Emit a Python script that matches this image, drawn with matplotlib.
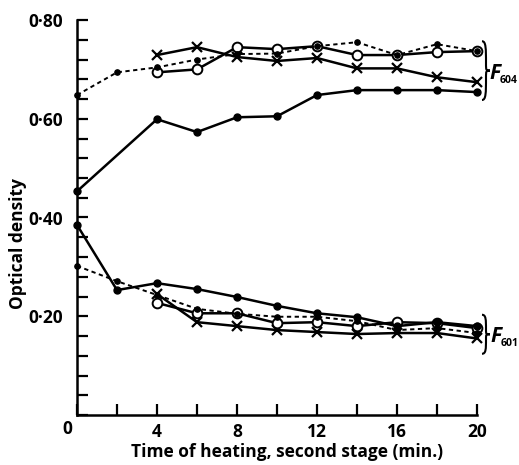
import matplotlib
matplotlib.use("Agg")
import matplotlib.pyplot as plt
from matplotlib.path import Path
from matplotlib.patches import PathPatch
from matplotlib.ticker import MultipleLocator

# time of heating, second stage (min.)
t_all = [0, 2, 4, 6, 8, 10, 12, 14, 16, 18, 20]
t_dot_hi = [0, 4, 6, 8, 10, 12, 14, 16, 18, 20]
t_late = [4, 6, 8, 10, 12, 14, 16, 18, 20]

# F604 group
f604_dots = [0.453, 0.599, 0.573, 0.603, 0.605, 0.648, 0.658, 0.658, 0.658, 0.654]
f604_dotted = [0.648, 0.694, 0.704, 0.720, 0.731, 0.732, 0.747, 0.755, 0.729, 0.751, 0.737]
f604_circles = [0.694, 0.700, 0.745, 0.741, 0.747, 0.729, 0.729, 0.735, 0.737]
f604_crosses = [0.729, 0.745, 0.725, 0.717, 0.723, 0.702, 0.702, 0.684, 0.674]

# F601 group
f601_dots = [0.385, 0.253, 0.267, 0.255, 0.239, 0.221, 0.206, 0.198, 0.180, 0.188, 0.180]
f601_dotted = [0.302, 0.271, 0.243, 0.215, 0.205, 0.199, 0.199, 0.190, 0.172, 0.176, 0.166]
f601_circles = [0.227, 0.206, 0.206, 0.186, 0.188, 0.180, 0.188, 0.186, 0.176]
f601_crosses = [0.245, 0.188, 0.180, 0.172, 0.168, 0.164, 0.166, 0.166, 0.155]

x_ticks = [4, 8, 12, 16, 20]
y_ticks = [0.20, 0.40, 0.60, 0.80]
y_labels = ["0·20", "0·40", "0·60", "0·80"]

FONT = "Open Sans"
plt.rcParams["font.family"] = [FONT, "DejaVu Sans"]

fig = plt.figure(figsize=(5.19, 4.65), dpi=100)
ax = fig.add_axes([77 / 519, 50 / 465, 400 / 519, 395 / 465])

k = "black"
solid = dict(color=k, lw=1.8, solid_joinstyle="miter", clip_on=False)
dotted = dict(color=k, lw=1.4, linestyle=(0, (2.2, 1.8)), clip_on=False)

for t_d, dots, dots2, circ, cross in [
    (t_dot_hi, f604_dots, f604_dotted, f604_circles, f604_crosses),
    (t_all, f601_dots, f601_dotted, f601_circles, f601_crosses),
]:
    ax.plot(t_late, cross, marker="x", ms=6.5, mew=1.6, zorder=3, **solid)
    ax.plot(t_late, circ, marker="o", ms=7, mfc="white", mec=k, mew=1.4, zorder=4, **solid)
    ax.plot(t_d, dots, marker="o", ms=5, mfc=k, mec=k, zorder=5, **solid)
    ax.plot(t_all, dots2, marker="o", ms=3.8, mfc=k, mec=k, zorder=6, **dotted)

ax.set_xlim(0, 20)
ax.set_ylim(0, 0.80)
for s in ("top", "right"):
    ax.spines[s].set_visible(False)
for s in ("left", "bottom"):
    ax.spines[s].set_linewidth(1.8)

ax.set_xticks(x_ticks)
ax.set_xticklabels([str(v) for v in x_ticks])
ax.xaxis.set_minor_locator(MultipleLocator(2))
ax.set_yticks(y_ticks)
ax.set_yticklabels(y_labels)
ax.yaxis.set_minor_locator(MultipleLocator(0.04))
ax.tick_params(which="both", direction="in", width=1.6, labelsize=12.5)
ax.tick_params(axis="x", which="both", length=8, pad=6)
ax.tick_params(axis="y", which="both", length=8, pad=10)
for lab in ax.get_xticklabels() + ax.get_yticklabels():
    lab.set_fontweight("bold")

# origin label sits below-left of the corner
ax.text(-0.5, -0.011, "0", ha="center", va="top", fontsize=12.5,
        fontweight="bold", clip_on=False)

ax.set_xlabel("Time of heating, second stage (min.)", fontsize=12.5, fontweight="bold")
ax.xaxis.set_label_coords(0.525, -0.072)
ax.set_ylabel("Optical density", fontsize=12.5, fontweight="bold")
ax.yaxis.set_label_coords(-0.125, 0.435)


def brace(x0, y_lo, y_hi, w):
    """Curly brace opening to the left, drawn in data coords."""
    ym = (y_lo + y_hi) / 2
    h = (y_hi - y_lo) / 2
    c = 0.25 * h
    verts = [
        (x0, y_hi),
        (x0 + w, y_hi), (x0 + w, y_hi - c), (x0 + w, ym + c),
        (x0 + w, ym), (x0 + w, ym), (x0 + 2 * w, ym),
        (x0 + w, ym), (x0 + w, ym), (x0 + w, ym - c),
        (x0 + w, y_lo + c), (x0 + w, y_lo), (x0, y_lo),
    ]
    codes = [Path.MOVETO] + [Path.CURVE4] * 12
    ax.add_patch(PathPatch(Path(verts, codes), fc="none", ec=k, lw=1.5,
                           clip_on=False))


def f_label(x, y, sub):
    ax.text(x, y, "F", fontsize=15, fontstyle="italic", fontweight="bold",
            ha="left", va="baseline", clip_on=False)
    ax.annotate(sub, xy=(x, y), xytext=(7.5, -3), textcoords="offset points",
                fontsize=7.5, fontweight="bold", ha="left", va="baseline",
                annotation_clip=False)


brace(20.25, 0.638, 0.757, 0.2)
f_label(20.62, 0.680, "604")
brace(20.25, 0.124, 0.203, 0.2)
f_label(20.66, 0.148, "601")

fig.savefig("out.png", dpi=100)
